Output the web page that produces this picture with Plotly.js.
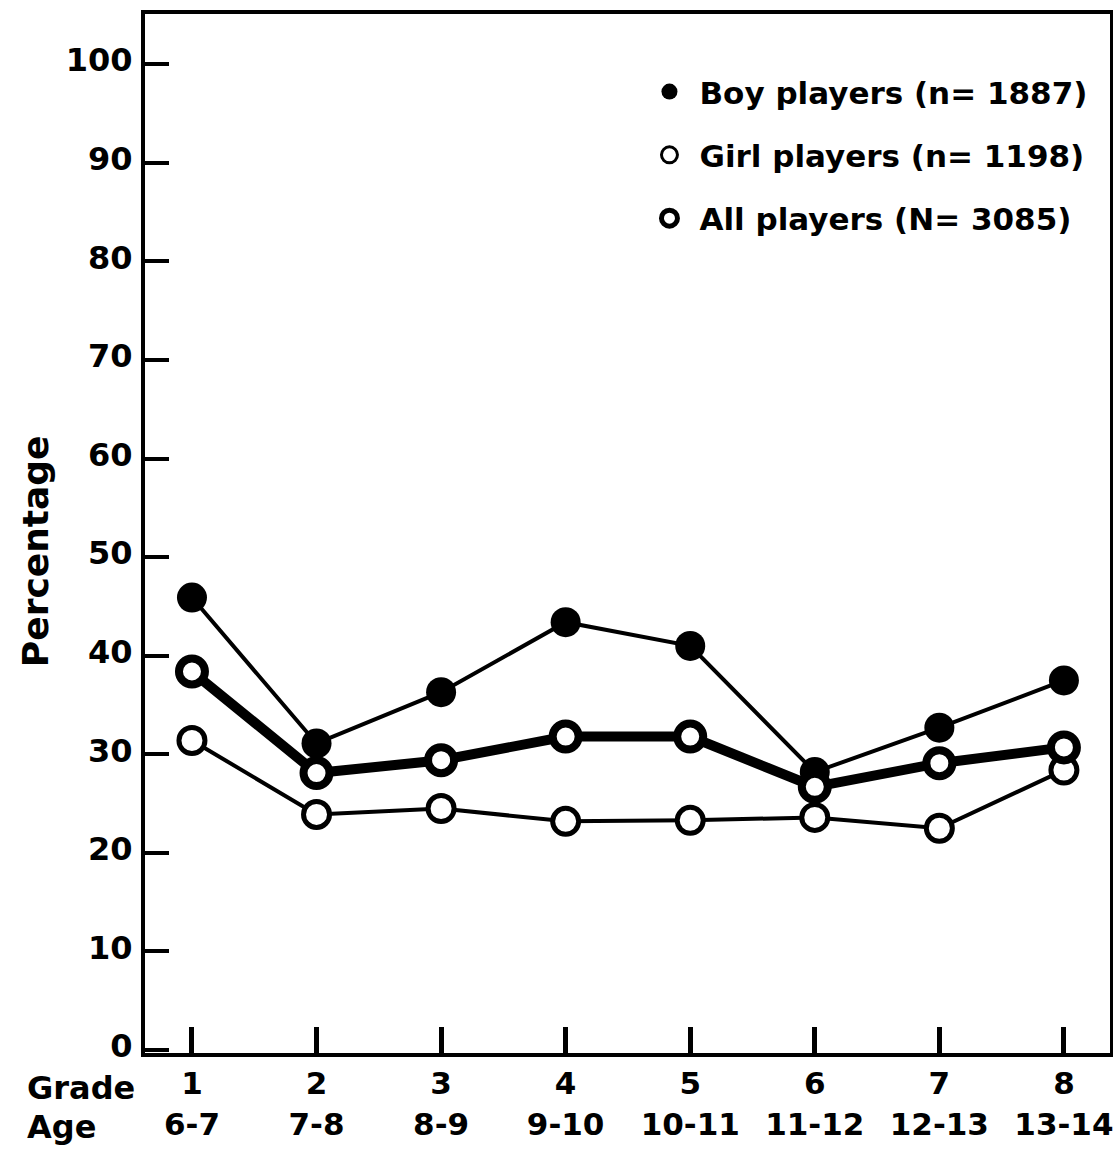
<!DOCTYPE html>
<html>
<head>
<meta charset="utf-8">
<script src="https://cdn.plot.ly/plotly-3.0.1.min.js"></script>
<style>html,body{margin:0;padding:0;background:#fff;}</style>
</head>
<body>
<div id="chart" style="width:1113px;height:1149px;"></div>
<script>
// Data
const grades = ['1', '2', '3', '4', '5', '6', '7', '8'];
const ages = ['6-7', '7-8', '8-9', '9-10', '10-11', '11-12', '12-13', '13-14'];
const gradeNum = [1, 2, 3, 4, 5, 6, 7, 8];
const boyPct = [45.9, 31.1, 36.3, 43.4, 41.0, 28.2, 32.7, 37.5];
const girlPct = [31.4, 23.9, 24.5, 23.2, 23.3, 23.6, 22.5, 28.4];
const allPct = [38.4, 28.1, 29.4, 31.8, 31.8, 26.7, 29.1, 30.7];
const yTicks = [0, 10, 20, 30, 40, 50, 60, 70, 80, 90, 100];
const legendNames = ['Boy players (n= 1887)', 'Girl players (n= 1198)', 'All players (N= 3085)'];

const FONT = 'DejaVu Sans, Arial, sans-serif';
const tickText = grades.map((g, i) => g + '<br>' + ages[i]);

const traces = [
  { x: gradeNum, y: girlPct, mode: 'lines+markers', showlegend: false,
    line: {color: '#000', width: 4},
    marker: {symbol: 'circle', size: 26, color: '#fff', line: {color: '#000', width: 5}} },
  { x: gradeNum, y: boyPct, mode: 'lines+markers', showlegend: false,
    line: {color: '#000', width: 4},
    marker: {symbol: 'circle', size: 30, color: '#000', line: {color: '#000', width: 0}} },
  { x: gradeNum, y: allPct, mode: 'lines+markers', showlegend: false,
    line: {color: '#000', width: 10},
    marker: {symbol: 'circle', size: 26, color: '#fff', line: {color: '#000', width: 8}} },
  // legend-only entries
  { x: [null], y: [null], mode: 'markers', name: legendNames[0], legendgroup: 'a',
    marker: {symbol: 'circle', size: 16, color: '#000'} },
  { x: [null], y: [null], mode: 'markers', name: legendNames[1], legendgroup: 'b',
    marker: {symbol: 'circle', size: 16, color: '#fff', line: {color: '#000', width: 3}} },
  { x: [null], y: [null], mode: 'markers', name: legendNames[2], legendgroup: 'c',
    marker: {symbol: 'circle', size: 16, color: '#fff', line: {color: '#000', width: 5}} }
];

const layout = {
  width: 1113, height: 1149,
  margin: {l: 145, r: 3, t: 14, b: 96, pad: 0},
  paper_bgcolor: '#fff', plot_bgcolor: '#fff',
  font: {family: FONT, color: '#000', weight: 'bold'},
  xaxis: {
    range: [0.623, 8.37], showgrid: false, zeroline: false,
    tickmode: 'array', tickvals: gradeNum, ticktext: tickText,
    ticks: 'inside', ticklen: 26, tickwidth: 5, tickcolor: '#000',
    showline: true, linewidth: 4, linecolor: '#000', mirror: true,
    ticklabeloverflow: 'allow',
    tickfont: {family: FONT, size: 31, color: '#000', weight: 'bold'}
  },
  yaxis: {
    range: [-0.3, 105.1], showgrid: false, zeroline: false,
    tickmode: 'array', tickvals: yTicks, ticktext: yTicks.map(String),
    ticks: 'inside', ticklen: 24, tickwidth: 4, tickcolor: '#000',
    showline: true, linewidth: 4, linecolor: '#000', mirror: true,
    ticklabelstandoff: 2, ticklabelshift: -4,
    tickfont: {family: FONT, size: 32, color: '#000', weight: 'bold'}
  },
  showlegend: true,
  legend: {
    x: 0.5124, y: 0.951, xanchor: 'left', yanchor: 'top',
    bgcolor: 'rgba(0,0,0,0)', borderwidth: 0,
    tracegroupgap: 20, itemwidth: 50,
    font: {family: FONT, size: 31, color: '#000', weight: 'bold'}
  },
  annotations: [
    {text: 'Percentage', xref: 'paper', yref: 'paper', x: -0.114, y: 0.483,
     textangle: -90, showarrow: false, xanchor: 'center', yanchor: 'middle',
     font: {family: FONT, size: 36, color: '#000', weight: 'bold'}},
    {text: 'Grade', xref: 'paper', yref: 'paper', x: -0.124, y: -0.0335,
     showarrow: false, xanchor: 'left', yanchor: 'middle',
     font: {family: FONT, size: 32, color: '#000', weight: 'bold'}},
    {text: 'Age', xref: 'paper', yref: 'paper', x: -0.124, y: -0.0713,
     showarrow: false, xanchor: 'left', yanchor: 'middle',
     font: {family: FONT, size: 32, color: '#000', weight: 'bold'}}
  ]
};

Plotly.newPlot('chart', traces, layout, {displayModeBar: false, staticPlot: true});
</script>
</body>
</html>
